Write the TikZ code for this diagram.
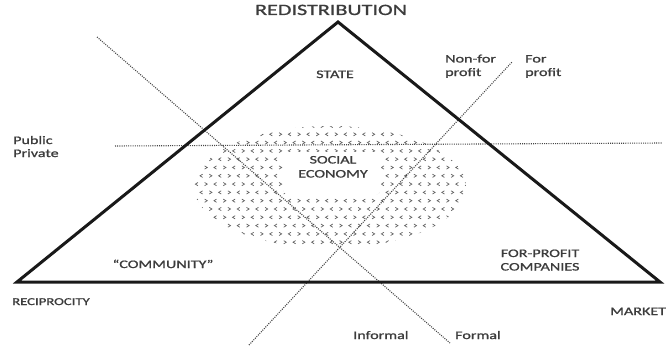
\documentclass[tikz,border=0pt]{standalone}
\usepackage{fontspec}
\usepackage{graphicx}
\setmainfont{Carlito}
\newfontfamily\lblfont{Carlito}[FakeBold=0.9]
\definecolor{ink}{RGB}{60,60,60}
\definecolor{dotc}{RGB}{70,70,70}
\newcommand\widetext[1]{\scalebox{1.4}[1]{#1}}
\begin{document}
\begin{tikzpicture}[x=1pt,y=-1pt,
  lbl/.style={inner sep=0pt, text=ink, font=\lblfont\fontsize{11.5}{13}\selectfont},
  tri/.style={line width=3pt, line join=miter, black!90},
  divider/.style={line width=1.1pt, dotc, dash pattern=on 1pt off 1.2pt},
  chev/.style={line width=0.7pt, dotc!85}]
\clip (0,0) rectangle (668,345);
\fill[white] (0,0) rectangle (668,345);
% social economy dotted area
\begin{scope}
\clip (330,187) ellipse [x radius=136, y radius=61];
\foreach \r in {0,...,15}{
  \foreach \c in {0,...,30}{
    \pgfmathsetmacro\xx{192+9.3*\c+4.65*mod(\r,2)}
    \pgfmathsetmacro\yy{126+8.3*\r}
    \pgfmathtruncatemacro\k{mod(\c+\r,2)}
    \ifnum\k=0
      \draw[chev] (\xx-1.3,\yy-1.6) -- (\xx+1.3,\yy) -- (\xx-1.3,\yy+1.6);
    \else
      \draw[chev] (\xx+1.3,\yy-1.6) -- (\xx-1.3,\yy) -- (\xx+1.3,\yy+1.6);
    \fi
  }}
\end{scope}
\fill[white, rounded corners=6pt] (283,152) rectangle (381,195);
% dividers
\coordinate (d1a) at (97,37);
\coordinate (d1b) at (450,343);
\coordinate (d2a) at (249,345);
\coordinate (d2b) at (512,62);
\coordinate (hA) at (115,146);
\coordinate (hB) at (662,143);
\draw[divider] (d1a) -- (d1b);
\draw[divider] (d2a) -- (d2b);
\draw[divider] (hA) -- (hB);
% triangle
\coordinate (apex) at (338,22);
\coordinate (bl) at (17,282);
\coordinate (br) at (660,282);
\draw[tri] (apex) -- (bl) -- (br) -- cycle;
% labels
\node[lbl, font=\lblfont\fontsize{15.8}{18}\selectfont, anchor=base] (redis) at (331,15) {\widetext{REDISTRIBUTION}};
\node[lbl, anchor=base] (state) at (335,78) {\widetext{STATE}};
\node[lbl, anchor=base west] (nfp1) at (445,62.5) {\widetext{Non-for}};
\node[lbl, anchor=base west] (nfp2) at (445,76) {\widetext{profit}};
\node[lbl, anchor=base west] (fp1) at (525,62.5) {\widetext{For}};
\node[lbl, anchor=base west] (fp2) at (525,76) {\widetext{profit}};
\node[lbl, anchor=base west] (pub) at (13,144) {\widetext{Public}};
\node[lbl, anchor=base west] (priv) at (13,157) {\widetext{Private}};
\node[lbl, anchor=base] (soc1) at (333,163.5) {\widetext{SOCIAL}};
\node[lbl, anchor=base] (soc2) at (333,177.5) {\widetext{ECONOMY}};
\node[lbl, anchor=base] (comm) at (163,268) {\widetext{“COMMUNITY”}};
\node[lbl, anchor=base] (fpc1) at (540,257) {\widetext{FOR-PROFIT}};
\node[lbl, anchor=base] (fpc2) at (540,270.5) {\widetext{COMPANIES}};
\node[lbl, font=\lblfont\fontsize{10.5}{12}\selectfont, anchor=base west] (recip) at (12,305) {\widetext{RECIPROCITY}};
\node[lbl, anchor=base west] (market) at (610,315) {\widetext{MARKET}};
\node[lbl, anchor=base west] (inf) at (353,339) {\widetext{Informal}};
\node[lbl, anchor=base west] (form) at (455,339) {\widetext{Formal}};
\end{tikzpicture}
\end{document}
